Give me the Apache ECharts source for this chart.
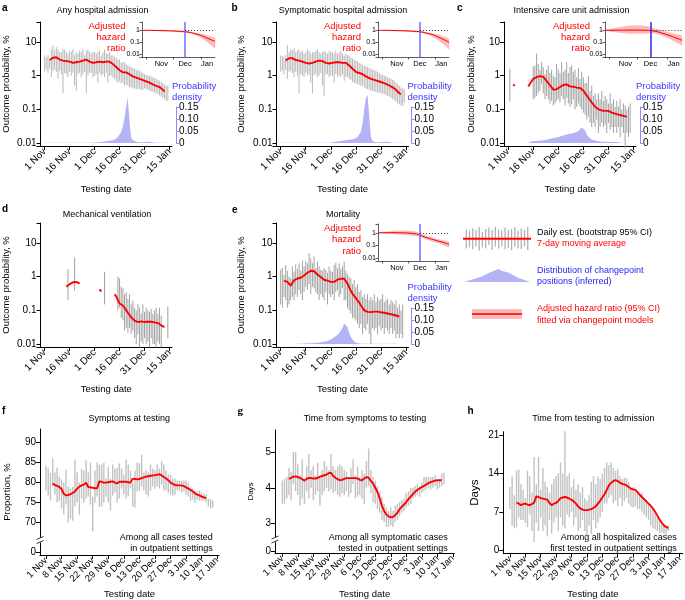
<!DOCTYPE html>
<html><head><meta charset="utf-8">
<script src="https://cdn.jsdelivr.net/npm/echarts@6/dist/echarts.min.js"></script>
<style>html,body{margin:0;padding:0;background:#fff}#c{width:685px;height:600px}</style>
</head><body><div id="c"></div>
<script>
const _ = null;
// ---------- tick labels ----------
const topTickDays = [0,15,30,45,60,75];
const topTickLabels = ['1 Nov','16 Nov','1 Dec','16 Dec','31 Dec','15 Jan'];
const botTickDays = [0,7,14,21,28,35,42,49,56,63,70,77];
const botTickLabels = ['1 Nov','8 Nov','15 Nov','22 Nov','29 Nov','6 Dec','13 Dec','20 Dec','27 Dec','3 Jan','10 Jan','17 Jan'];
const insetMonthDays = [17,44,69];
const insetMonthLabels = ['Nov','Dec','Jan'];
const insetTickDays = [0,30,62];
const changepointDay = 44;
const insetDays = [-5,0,10,20,30,40,44,50,55,60,65,70,75,78];

// ---------- a: Any hospital admission (day 0 = 1 Nov) ----------
const aMA = [_,_,_,2.9,3.1,3.4,3.6,3.5,3.2,3.0, 2.9,2.8,2.7,2.7,2.6,2.6,2.5,2.4,2.4,2.5, 2.5,2.6,2.7,2.8,2.9,3.0,2.8,2.6,2.5,2.4, 2.4,2.5,2.5,2.6,2.5,2.5,2.5,2.6,2.6,2.6, 2.4,2.2,2.0,1.8,1.6,1.45,1.3,1.25,1.25,1.25, 1.15,1.1,1.0,0.95,0.9,0.87,0.83,0.8,0.77,0.74, 0.7,0.68,0.65,0.62,0.58,0.55,0.53,0.5,0.48,0.46, 0.42,0.38,0.34,_,_,_,_];
const aHi = [4,3.5,4,3,6,8,5.5,7,6,5, 5,6,6,5,4.5,5.5,5,6,4,5, 4.5,5.5,5,6,4,5.5,6,5,4.5,5, 5,4.5,5,5.5,4,5,6,4.5,4.5,5, 4,4,3.5,3.5,3,3,2.5,2.5,2.5,2.2, 2.0,1.9,1.8,1.7,1.6,1.5,1.45,1.4,1.3,1.2, 1.1,1.05,1.0,1.0,0.95,0.9,0.85,0.8,0.75,0.7, 0.65,0.6,0.55,0.5,0.5,_,_];
const aLo = [1.3,1.5,1.2,1.6,0.9,1.4,1.5,1.3,0.8,1.4, 1.1,0.3,1.2,1.1,0.9,1.3,1.0,1.2,0.5,0.35, 1.1,1.2,0.9,1.1,1.3,0.3,1.0,1.2,1.2,0.9, 1.0,1.1,0.6,1.2,1.0,1.1,0.9,1.2,0.6,1.0, 1.0,0.9,0.8,0.7,0.6,0.7,0.6,0.6,0.5,0.55, 0.5,0.45,0.45,0.42,0.42,0.4,0.4,0.4,0.38,0.38, 0.42,0.4,0.38,0.36,0.34,0.33,0.31,0.3,0.28,0.26, 0.24,0.22,0.2,0.18,0.18,_,_];
const aDens = [0.001,0.001,0.001,0.001,0.001,0.001,0.001,0.001,0.001,0.001, 0.001,0.001,0.001,0.001,0.001,0.001,0.001,0.001,0.001,0.001, 0.001,0.001,0.001,0.001,0.001,0.001,0.001,0.001,0.001,0.001, 0.002,0.002,0.003,0.003,0.004,0.005,0.006,0.007,0.008,0.009, 0.01,0.011,0.014,0.018,0.024,0.032,0.045,0.068,0.1,0.15, 0.19,0.096,0.025,0.012,0.008,0.005,0.004,0.003,0.003,0.003, 0.004,0.005,0.005,0.005,0.004,0.003,0.002,0.001,0.001,0.001, 0.001,0.001,0.001,0.001,0.001,0,0];
const aRatio = [1,1,0.97,0.93,0.88,0.8,0.76,0.65,0.52,0.42,0.3,0.21,0.14,0.12];
const aRatioLo = [0.95,0.93,0.88,0.82,0.75,0.66,0.6,0.55,0.4,0.28,0.17,0.09,0.045,0.03];
const aRatioHi = [1.05,1.07,1.06,1.04,1.02,0.96,0.94,0.78,0.66,0.56,0.46,0.36,0.27,0.23];

// ---------- b: Symptomatic hospital admission ----------
const bMA = [_,_,_,2.8,3.0,3.3,3.5,3.3,3.0,2.9, 2.9,2.8,2.7,2.6,2.5,2.4,2.3,2.3,2.3,2.4, 2.5,2.6,2.7,2.8,2.9,2.7,2.5,2.4,2.3,2.3, 2.3,2.4,2.5,2.5,2.5,2.5,2.5,2.4,2.4,2.4, 2.2,2.0,1.8,1.6,1.45,1.3,1.25,1.2,1.15,1.1, 1.0,0.95,0.9,0.85,0.81,0.78,0.75,0.72,0.69,0.67, 0.65,0.62,0.6,0.57,0.54,0.51,0.48,0.45,0.42,0.38, 0.34,0.3,0.28,_,_,_,_];
const bHi = [4,3.8,3.5,4,8,5,6,5.5,6.5,5, 5.5,6,5,5.5,4.5,5,6,5.5,4.5,5, 5,5.5,6,5,4.5,5,5.5,5,4.5,5.5, 5,5,4.5,5.5,4.5,5,5.5,4.5,4,4.5, 4,3.8,3.5,3.2,3,2.8,2.6,2.4,2.3,2.1, 2.0,1.9,1.8,1.7,1.6,1.5,1.45,1.4,1.3,1.2, 1.1,1.05,1.0,0.95,0.9,0.85,0.8,0.75,0.7,0.62, 0.56,0.5,0.45,0.42,0.4,_,_];
const bLo = [1.3,1.4,1.1,1.5,0.8,1.3,1.4,1.2,0.9,1.3, 1.0,0.3,1.1,1.0,0.9,1.2,1.0,1.1,0.6,0.3, 1.0,1.1,0.9,1.0,1.2,0.5,0.25,1.1,1.1,0.9, 1.0,1.0,0.6,1.1,0.9,1.0,0.9,1.1,0.7,0.9, 0.9,0.8,0.75,0.65,0.6,0.6,0.55,0.55,0.5,0.5, 0.45,0.42,0.4,0.38,0.36,0.35,0.34,0.33,0.32,0.31, 0.3,0.29,0.28,0.26,0.25,0.24,0.22,0.2,0.19,0.17, 0.15,0.14,0.13,0.13,0.16,_,_];
const bDens = [0.001,0.001,0.001,0.001,0.001,0.001,0.001,0.001,0.001,0.001, 0.001,0.001,0.001,0.001,0.001,0.001,0.001,0.001,0.001,0.001, 0.001,0.001,0.001,0.001,0.001,0.001,0.001,0.001,0.001,0.001, 0.002,0.003,0.004,0.005,0.006,0.007,0.008,0.01,0.011,0.012, 0.013,0.014,0.015,0.016,0.017,0.018,0.025,0.035,0.047,0.08, 0.14,0.19,0.2,0.11,0.025,0.008,0.005,0.003,0.003,0.003, 0.003,0.004,0.005,0.005,0.005,0.004,0.002,0.001,0.001,0.001, 0.001,0.001,0.001,0.001,0,0,0];
const bRatio = [1,1,0.97,0.93,0.88,0.8,0.76,0.62,0.5,0.4,0.28,0.19,0.13,0.1];
const bRatioLo = [0.95,0.93,0.88,0.82,0.75,0.66,0.6,0.52,0.38,0.26,0.15,0.08,0.04,0.025];
const bRatioHi = [1.05,1.07,1.06,1.04,1.02,0.96,0.94,0.75,0.64,0.54,0.44,0.34,0.25,0.2];

// ---------- c: Intensive care unit admission ----------
const cMA = [_,_,_,0.55,0.5,_,_,_,_,_, _,_,0.48,0.55,0.68,0.8,0.87,0.9,0.93,0.97, 1.0,0.92,0.8,0.7,0.6,0.52,0.45,0.38,0.39,0.4, 0.44,0.46,0.5,0.53,0.57,0.55,0.52,0.48,0.46,0.47, 0.45,0.44,0.44,0.43,0.41,0.36,0.3,0.26,0.22,0.19, 0.16,0.14,0.12,0.11,0.1,0.095,0.093,0.092,0.09,0.09, 0.09,0.085,0.08,0.077,0.075,0.073,0.07,0.068,0.066,0.064, 0.062,0.06,_,_,_,_,_];
const cHi = [_,1.6,_,_,_,_,_,_,_,_, _,_,_,_,_,1.9,2.0,4.5,2.2,1.5, 2.5,1.8,1.1,1.5,2.0,1.2,1.5,1.0,0.9,2.2, 1.5,1.2,2.5,1.3,1.5,2.5,1.2,1.8,2.0,1.3, 1.5,0.9,1.7,0.8,1.3,0.9,0.6,0.6,1.0,0.35, 0.5,0.25,0.3,0.2,0.3,0.2,0.35,0.18,0.25,0.2, 0.15,0.3,0.15,0.2,0.12,0.18,0.12,0.2,0.1,0.15, 0.13,0.1,0.12,0.15,_,_,_];
const cLo = [_,0.17,_,_,_,_,_,_,_,_, _,_,_,_,_,0.2,0.22,0.25,0.3,0.35, 0.55,0.3,0.2,0.25,0.2,0.15,0.18,0.13,0.15,0.18, 0.2,0.16,0.25,0.2,0.13,0.22,0.15,0.12,0.14,0.2, 0.1,0.12,0.15,0.12,0.1,0.08,0.07,0.05,0.06,0.04, 0.03,0.04,0.03,0.05,0.02,0.03,0.04,0.03,0.035,0.02, 0.04,0.025,0.03,0.02,0.03,0.02,0.03,0.015,0.03,0.02, 0.007,0.02,0.015,0.02,_,_,_];
const cDens = [0,0,0,0,0,0,0,0,0,0, 0,0,0,0.004,0.007,0.008,0.008,0.009,0.009,0.01, 0.01,0.011,0.012,0.014,0.016,0.018,0.019,0.021,0.022,0.024, 0.025,0.027,0.029,0.031,0.033,0.035,0.037,0.039,0.04,0.042, 0.044,0.046,0.05,0.058,0.066,0.064,0.052,0.035,0.025,0.019, 0.015,0.012,0.01,0.008,0.007,0.006,0.005,0.005,0.005,0.005, 0.004,0.004,0.004,0.004,0.004,0.003,0.003,0.003,0,0, 0,0,0,0,0,0,0];
const cRatio = [1,1,1.02,1.04,1.04,1.0,0.95,0.8,0.62,0.47,0.35,0.25,0.18,0.14];
const cRatioLo = [0.92,0.8,0.62,0.52,0.5,0.52,0.55,0.5,0.38,0.27,0.18,0.11,0.07,0.05];
const cRatioHi = [1.08,1.3,1.8,2.4,2.6,2.3,1.9,1.35,1.05,0.85,0.65,0.52,0.42,0.36];

// ---------- d: Mechanical ventilation ----------
const dMA = [_,_,_,_,_,_,_,_,_,_, _,_,_,0.5,0.55,0.6,0.65,0.68,0.7,0.7, 0.67,0.62,_,_,_,_,_,_,_,_, _,_,_,0.42,0.36,_,_,_,_,_, _,_,0.3,0.26,0.2,0.16,0.14,0.14,0.12,0.1, 0.085,0.075,0.062,0.055,0.05,0.047,0.045,0.045,0.047,0.047, 0.045,0.045,0.046,0.047,0.046,0.044,0.044,0.043,0.042,0.04, 0.036,0.034,0.032,_,_,_,_];
const dHi = [_,_,_,_,_,_,_,_,_,_, _,_,_,_,1.7,_,_,_,3.7,_, _,_,_,_,_,_,_,_,_,_, _,_,_,_,_,_,1.4,_,_,_, _,_,_,_,1.0,0.9,0.5,0.45,0.3,0.35, 0.22,0.3,0.15,0.2,0.12,0.1,0.15,0.12,0.08,0.15, 0.09,0.12,0.1,0.09,0.11,0.08,0.1,0.12,0.08,0.12, 0.07,_,_,_,0.13,_,_];
const dLo = [_,_,_,_,_,_,_,_,_,_, _,_,_,_,0.2,_,_,_,0.38,_, _,_,_,_,_,_,_,_,_,_, _,_,_,_,_,_,0.15,_,_,_, _,_,_,_,0.1,0.12,0.06,0.05,0.025,0.03, 0.022,0.03,0.02,0.025,0.015,0.01,0.02,0.008,0.012,0.01, 0.015,0.01,0.012,0.008,0.015,0.01,0.01,0.008,0.012,0.01, 0.008,_,_,_,0.015,_,_];

// ---------- e: Mortality ----------
const eMA = [_,_,0.76,0.74,0.7,0.62,0.54,0.65,0.78,0.85, 0.88,0.9,0.93,0.98,1.08,1.17,1.3,1.42,1.5,1.56, 1.45,1.3,1.15,1.06,0.98,0.88,0.81,0.78,0.76,0.74, 0.7,0.66,0.7,0.78,0.82,0.85,0.87,0.88,0.87,0.78, 0.62,0.48,0.38,0.31,0.27,0.23,0.21,0.17,0.14,0.12, 0.1,0.093,0.09,0.089,0.089,0.09,0.092,0.093,0.092,0.09, 0.088,0.087,0.085,0.083,0.081,0.079,0.077,0.075,0.073,0.071, 0.068,0.066,_,_,_,_,_];
const eHi = [1.6,1.8,1.1,2.2,1.5,1.0,0.9,2.0,1.4,2.3, 1.7,2.5,1.5,3.0,2.0,2.8,2.5,5.0,3.5,2.5, 4.0,1.8,2.8,2.0,1.6,1.5,1.8,1.6,1.3,2.0, 1.5,1.4,2.2,2.6,1.8,2.5,1.7,2.0,2.8,1.5, 1.2,1.0,0.9,0.6,0.8,0.5,0.6,0.35,0.4,0.25, 0.3,0.22,0.3,0.2,0.25,0.2,0.3,0.18,0.25,0.2, 0.22,0.3,0.18,0.2,0.22,0.15,0.2,0.18,0.15,0.2, 0.12,0.15,0.1,0.15,_,_,_];
const eLo = [0.15,0.12,0.25,0.2,0.12,0.15,0.2,0.25,0.2,0.3, 0.25,0.4,0.3,0.2,0.35,0.5,0.4,0.6,0.3,0.5, 0.45,0.35,0.3,0.2,0.3,0.25,0.2,0.35,0.15,0.3, 0.25,0.3,0.2,0.35,0.4,0.25,0.3,0.45,0.2,0.2, 0.12,0.1,0.08,0.06,0.06,0.05,0.04,0.03,0.04,0.02, 0.03,0.025,0.04,0.02,0.01,0.03,0.025,0.03,0.02,0.035, 0.025,0.03,0.02,0.03,0.025,0.02,0.03,0.02,0.025,0.015, 0.02,0.015,0.02,0.015,_,_,_];
const eDens = [0,0,0,0,0,0,0,0,0,0, 0.001,0.001,0.001,0.002,0.002,0.002,0.003,0.003,0.003,0.004, 0.004,0.005,0.005,0.006,0.007,0.008,0.009,0.01,0.012,0.015, 0.019,0.024,0.028,0.032,0.038,0.045,0.055,0.068,0.085,0.09, 0.07,0.046,0.03,0.018,0.01,0.005,0.003,0.002,0.001,0.001, 0.001,0.001,0.001,0.001,0.001,0.001,0.001,0.001,0.001,0.001, 0.001,0.001,0.001,0.001,0.001,0.001,0.001,0.001,0.001,0.001, 0.001,0,0,0,0,0,0];
const eRatio = [1,1,1.02,1.0,0.95,0.8,0.65,0.45,0.35,0.28,0.22,0.18,0.14,0.12];
const eRatioLo = [0.9,0.85,0.78,0.7,0.62,0.52,0.45,0.32,0.24,0.19,0.15,0.11,0.08,0.07];
const eRatioHi = [1.1,1.2,1.4,1.5,1.45,1.2,0.95,0.63,0.5,0.4,0.32,0.27,0.22,0.19];

// ---------- f: Symptoms at testing (%) ----------
const fMA = [_,_,_,79.8,79.4,79.2,78.9,78.4,77.2,76.8, 76.9,77.1,77.4,77.8,78.5,79.0,79.3,79.5,80.0,78.9, 78.8,78.7,78.6,78.6,80.3,80.2,80.0,80.0,80.1,80.2, 80.3,80.0,79.8,80.2,80.2,80.2,80.2,80.1,80.0,81.0, 80.9,80.8,80.9,81.1,81.3,81.5,81.6,81.7,81.8,81.8, 82.0,82.1,81.8,81.4,81.0,80.6,80.0,79.7,79.4,79.3, 79.3,79.3,79.1,78.8,78.5,78.2,77.8,77.3,77.0,76.8, 76.5,76.3,76.1,_,_,_,_];
const fHi = [84.2,83.5,82.5,86,82.5,83.8,81.5,80.8,80,83.2, 79,78.5,79,85.8,82.5,80,83.5,83,85.5,82.5, 85,76.5,83,85,84.5,84.5,85,81,84,81, 84.5,83.5,83.7,84.8,83.5,82,85.8,84.5,83,80, 83,85,84.8,87,82.5,83,82.5,84.5,83.5,83, 84.5,83.5,85.3,84.5,83,82,82,81,81,80.5, 80.5,80.5,80.5,80.5,80,78.5,78.5,78,77.8,78, 77.5,77.2,77,76,76,75.5,_];
const fLo = [78,76.8,75.5,79,77,75,75.5,73.5,72,74.5, 70,71,70.5,74,75,72,76,75,76,76.5, 74.5,67.8,75,76.5,74,74,75,76.5,75,73, 76.8,77.5,75,76,78.5,77,76,76.5,78.5,74, 73.8,77.8,78,79,78,77,76.5,78,79,78.5, 79,78.5,79.5,78,78,77.5,77,76.8,77,78, 78,77.5,77.8,77,76.5,75.5,75.8,75,75.8,75.5, 75.5,75.5,75,74,73.5,73.8,_];

// ---------- g: Time from symptoms to testing (days) ----------
const gMA = [_,_,_,4.25,4.28,4.31,4.32,4.3,4.28,4.24, 4.2,4.25,4.28,4.27,4.26,4.26,4.28,4.31,4.33,4.35, 4.37,4.41,4.42,4.33,4.28,4.24,4.21,4.22,4.25,4.27, 4.27,4.27,4.27,4.27,4.26,4.22,4.21,4.26,4.3,4.28, 4.19,4.12,4.0,3.88,3.7,3.5,3.35,3.25,3.2,3.17, 3.18,3.23,3.3,3.4,3.47,3.53,3.6,3.68,3.75,3.82, 3.89,3.94,3.98,4.02,4.05,4.09,4.13,4.16,4.18,4.2, 4.21,4.21,4.21,_,_,_,_];
const gLo = [3.55,3.55,3.7,3.8,3.65,4.1,3.9,3.8,3.5,3.7, 3.55,3.9,3.7,4.0,3.65,3.8,3.9,3.5,3.8,3.9, 4.0,3.9,3.95,3.85,3.9,3.8,3.75,3.85,3.8,3.9, 3.75,3.85,4.1,3.7,3.75,3.8,3.7,3.55,4.0,4.05, 3.85,3.6,3.55,3.4,3.3,3.1,3.05,2.9,2.9,2.95, 2.9,3.05,3.1,3.2,3.3,3.35,3.45,3.5,3.55,3.7, 3.75,3.8,3.75,3.85,3.9,3.95,4.0,3.95,4.0,4.05, 3.95,4.0,4.05,4.1,_,_,_];
const gHi = [4.2,4.25,4.3,4.55,4.45,5.0,5.0,4.65,4.35,4.8, 4.25,4.6,4.95,4.5,4.6,4.35,4.7,4.3,4.5,4.75, 4.6,4.5,4.95,4.6,4.5,4.6,4.65,4.6,4.5,4.45, 4.3,4.55,4.8,4.35,4.6,4.3,4.5,4.4,4.75,5.1, 4.5,4.3,4.2,4.05,3.9,3.75,3.55,3.45,3.35,3.45, 3.35,3.5,3.55,3.6,3.65,3.7,3.85,3.9,4.0,4.0, 4.05,4.1,4.05,4.15,4.3,4.3,4.3,4.3,4.3,4.35, 4.2,4.25,4.4,4.42,_,_,_];

// ---------- h: Time from testing to admission (days) ----------
const hMA = [_,_,_,8.7,8.5,8.2,8.4,8.5,8.3,8.2, 8.4,8.7,9.8,9.7,9.5,9.4,9.3,9.2,8.6,8.2, 8.5,8.6,9.0,9.5,9.6,9.7,9.6,9.4,9.2,8.9, 8.5,8.0,7.6,7.4,7.3,7.3,7.4,7.5,7.7,8.0, 8.5,9.0,9.6,10.2,11.0,11.8,12.3,12.6,12.8,12.6, 12.3,12.1,12.0,11.8,11.5,11.2,11.1,11.0,10.6,10.1, 9.7,9.3,8.9,8.5,8.1,7.6,7.0,6.3,5.6,5.0, 4.5,4.2,4.1,_,_,_,_];
const hLo = [7.5,4.5,4,4.2,6,5.5,5.5,5,4.2,6.5, 3.5,1.5,5,3.5,6,3.5,4.5,2.5,5.5,3, 5,6,3.5,6,4.5,4,6.5,6,7,4.5, 6,3.5,4,5.5,3.5,2.5,4.5,3,5.5,4, 5,6,7,8.5,8.5,9.5,10,8.5,9,8, 9.5,8,9,9.5,8.5,8,7.8,8,7.5,7.5, 7,6.5,6,5.5,4.5,4,3.8,3.5,3,3.2, 3,2.8,3.5,_,_,_,_];
const hHi = [11.5,13.5,10,14.5,14.7,12,11,9.5,14.5,13.5, 10.5,17,12,17,11,15,12.5,11.5,10.5,12, 13,13.5,14,16,14,21.7,13.5,14,11.5,13, 11,12,10.5,11.5,9.5,9,10,12.5,13.5,12, 13.5,13,14,15,16,15.5,16,15,14.5,14.8, 13.5,13,13.2,13.2,12.5,11.5,11.5,11,10.5,10, 10.5,9.5,9.2,8.5,8,7.5,6.8,6,5.5,5, 4.8,4.6,4.5,_,_,_,_];

// ---------- legend keys ----------
const legBarLo = [0.1,0.15,0.07,0.2,0.01,0.15,0.1,0.25,0.04,0.18,0.1,0.2,0.07,0.14,0.04,0.18,0.1,0.08,0.2,0.04];
const legBarHi = [0.9,0.85,0.95,0.88,1.0,0.8,0.92,0.98,0.88,1.0,0.9,0.85,0.97,0.88,0.92,1.0,0.85,0.94,0.88,1.0];
const legDensX = [0,0.27,0.4,0.52,0.58,0.67,0.82,1];
const legDensY = [0,0.43,0.75,1,0.85,0.74,0.33,0];

// ================= building =================
const FONT = '"Liberation Sans", Arial, Helvetica, sans-serif';
const grids=[], xAxes=[], yAxes=[], series=[];
const addGrid = g => (grids.push(g), grids.length-1);
const addX = o => (xAxes.push(Object.assign({splitLine:{show:false}}, o)), xAxes.length-1);
const addY = o => (yAxes.push(Object.assign({splitLine:{show:false}}, o)), yAxes.length-1);
const blk = {color:'#000', width:1};
const pts = arr => arr.map((v,i)=>[i, v]);
const isPow10 = v => { const l=Math.log10(v); return Math.abs(l-Math.round(l))<1e-6; };
const logFmt = v => isPow10(v) ? String(+Number(v).toPrecision(2)) : '';

function barSeries(xi, yi, lo, hi, color, w){
  const data = [];
  lo.forEach((l,i)=>{ if(l!=null && hi[i]!=null) data.push([i,l,hi[i]]); });
  return {type:'custom', xAxisIndex:xi, yAxisIndex:yi, data, silent:true, clip:false,
    encode:{x:0,y:[1,2]},
    renderItem:(p,api)=>{
      const a=api.coord([api.value(0),api.value(1)]), b=api.coord([api.value(0),api.value(2)]);
      return {type:'line', shape:{x1:a[0],y1:a[1],x2:b[0],y2:b[1]}, style:{stroke:color,lineWidth:w}};
    }};
}
function lineSeries(xi, yi, data, color, w, extra){
  return Object.assign({type:'line', xAxisIndex:xi, yAxisIndex:yi, data, showSymbol:false, symbol:'none',
    connectNulls:false, silent:true, lineStyle:{color, width:w}, itemStyle:{color}}, extra||{});
}
function bandSeries(xi, yi, xs, lo, hi, fill, smooth){
  return {type:'custom', xAxisIndex:xi, yAxisIndex:yi, data:[[xs[0], lo[0]]], silent:true, clip:false,
    renderItem:(p,api)=>{
      const top = xs.map((x,i)=>api.coord([x,hi[i]]));
      const bot = xs.map((x,i)=>api.coord([x,lo[i]])).reverse();
      return {type:'polygon', shape:{points:top.concat(bot), smooth:smooth||0}, style:{fill}};
    }};
}

function topPanel(p){
  const gi = addGrid({left:p.left, top:p.top, width:132, height:124});
  const xi = addX({gridIndex:gi, type:'value', min:-2.5, max:76.5,
    axisLine:{onZero:false, lineStyle:blk},
    axisTick:{customValues:topTickDays, length:4, lineStyle:blk},
    axisLabel:{customValues:topTickDays, formatter:v=>topTickLabels[topTickDays.indexOf(v)], rotate:45, fontSize:10, color:'#000', margin:4, fontFamily:FONT},
    name:'Testing date', nameLocation:'middle', nameGap:p.xNameGap, nameTextStyle:{fontSize:9.5,color:'#000',fontFamily:FONT}});
  const yi = addY({gridIndex:gi, type:'log', logBase:10, min:0.0082, max:39,
    axisLine:{show:true, onZero:false, lineStyle:blk}, axisTick:{show:true, length:4, lineStyle:blk},
    minorTick:{show:false},
    axisLabel:{fontSize:10, color:'#000', margin:4, fontFamily:FONT, formatter:logFmt},
    name:'Outcome probability, %', nameLocation:'middle', nameRotate:90, nameGap:p.yNameGap,
    nameTextStyle:{fontSize:9.5,color:'#000',fontFamily:FONT}});
  if (p.dens){
    const dg = addGrid({left:p.left, top:p.densTop, width:132, height:36});
    const dx = addX({gridIndex:dg, type:'value', min:-2.5, max:76.5, show:false});
    const dy = addY({gridIndex:dg, type:'value', position:'right', offset:p.densOffset, min:0, max:0.15, interval:0.05,
      axisLine:{show:true, onZero:false, lineStyle:{color:'#8c8cff', width:1}}, axisTick:{show:true, length:3, lineStyle:{color:'#8c8cff'}},
      axisLabel:{fontSize:10, color:'#000', margin:3, fontFamily:FONT, formatter:v=> v===0?'0':v.toFixed(2)}});
    series.push(lineSeries(dx, dy, pts(p.dens), '#b3b3f6', 0, {clip:false, areaStyle:{color:'#b3b3f6', opacity:1}, z:1}));
  }
  series.push(barSeries(xi, yi, p.lo, p.hi, p.barColor, 1.0));
  series.push(lineSeries(xi, yi, pts(p.ma), '#ff0000', 1.9, {z:5}));
  if (p.inset){
    const q = p.inset;
    const ig = addGrid({left:q.left, top:q.top, width:q.w, height:q.h});
    const ix = addX({gridIndex:ig, type:'value', min:-5, max:78,
      axisLine:{onZero:false, lineStyle:{color:'#333', width:0.8}},
      axisTick:{customValues:insetTickDays, length:2.5, lineStyle:{color:'#333', width:0.8}},
      axisLabel:{customValues:insetMonthDays, formatter:v=>insetMonthLabels[insetMonthDays.indexOf(v)], fontSize:7.5, color:'#000', margin:3, fontFamily:FONT}});
    const iy = addY({gridIndex:ig, type:'log', logBase:10, min:0.0056, max:5,
      axisLine:{show:true, onZero:false, lineStyle:{color:'#333', width:0.8}}, axisTick:{show:true, length:2.5, lineStyle:{color:'#333', width:0.8}},
      minorTick:{show:false},
      axisLabel:{fontSize:7, color:'#000', margin:2, fontFamily:FONT, formatter:logFmt}});
    series.push(bandSeries(ix, iy, insetDays, q.lo, q.hi, 'rgba(255,70,70,0.38)', 0.25));
    series.push(lineSeries(ix, iy, insetDays.map((d,i)=>[d,q.mid[i]]), '#ee0000', 1, {smooth:0.3, z:4,
      markLine:{symbol:'none', silent:true, animation:false, label:{show:false}, data:[
        {xAxis:changepointDay, lineStyle:{color:q.cpColor, width:1.5, type:'solid'}},
        [{coord:[changepointDay,1], lineStyle:{color:'#333', width:1, type:[1,2]}}, {coord:[78,1]}]
      ]}}));
  }
}

topPanel({left:40, top:22, lo:aLo, hi:aHi, ma:aMA, barColor:'#b8b8b8', dens:aDens, densTop:107, densOffset:4, xNameGap:38.5, yNameGap:29.5,
  inset:{left:142, top:22, w:73, h:35, mid:aRatio, lo:aRatioLo, hi:aRatioHi, cpColor:'#6b6bff'}});
topPanel({left:276.5, top:22, lo:bLo, hi:bHi, ma:bMA, barColor:'#b8b8b8', dens:bDens, densTop:107, densOffset:3, xNameGap:38.5, yNameGap:30,
  inset:{left:378, top:22, w:71, h:35, mid:bRatio, lo:bRatioLo, hi:bRatioHi, cpColor:'#6b6bff'}});
topPanel({left:504, top:22, lo:cLo, hi:cHi, ma:cMA, barColor:'#a2a2a2', dens:cDens, densTop:107, densOffset:4, xNameGap:38.5, yNameGap:26,
  inset:{left:605, top:22, w:77, h:35, mid:cRatio, lo:cRatioLo, hi:cRatioHi, cpColor:'#2a2ae6'}});
topPanel({left:40, top:223, lo:dLo, hi:dHi, ma:dMA, barColor:'#a2a2a2', xNameGap:37.5, yNameGap:29.5});
topPanel({left:276.5, top:223, lo:eLo, hi:eHi, ma:eMA, barColor:'#a2a2a2', dens:eDens, densTop:308, densOffset:3, xNameGap:37.5, yNameGap:30,
  inset:{left:378, top:224, w:71, h:37, mid:eRatio, lo:eRatioLo, hi:eRatioHi, cpColor:'#6b6bff'}});

function bottomPanel(p){
  const gi = addGrid({left:p.left, top:p.top, width:p.w, height:p.h});
  const xi = addX({gridIndex:gi, type:'value', min:p.xmin, max:p.xmax,
    axisLine:{onZero:false, lineStyle:blk},
    axisTick:{customValues:botTickDays, length:4, lineStyle:blk},
    axisLabel:{customValues:botTickDays, formatter:v=>botTickLabels[botTickDays.indexOf(v)], rotate:45, fontSize:9.5, color:'#000', margin:4, fontFamily:FONT},
    name:'Testing date', nameLocation:'middle', nameGap:p.xNameGap, nameTextStyle:{fontSize:9.5,color:'#000',fontFamily:FONT}});
  const yi = addY({gridIndex:gi, type:'value', min:p.ymin, max:p.ymax,
    axisLine:{show:true, onZero:false, lineStyle:blk}, axisTick:{show:true, length:4, lineStyle:blk, customValues:p.yTicks},
    axisLabel:{customValues:p.yTicks, formatter:p.yFmt, fontSize:10, color:'#000', margin:4, fontFamily:FONT},
    name:p.yName, nameLocation:'middle', nameRotate:90, nameGap:p.yNameGap, nameTextStyle:{fontSize:p.yNameSize,color:'#000',fontFamily:FONT}});
  series.push(barSeries(xi, yi, p.lo, p.hi, '#c2c2c2', 1.4));
  series.push(lineSeries(xi, yi, pts(p.ma), '#ff0000', 1.9, {z:5}));
}
const fZeroPos = 62.7, gZeroPos = 2.23;
bottomPanel({left:40, top:429, w:179, h:126, xmin:-2.7, xmax:77.8, ymin:61.9, ymax:93.4,
  yTicks:[fZeroPos,70,75,80,85,90], yFmt:v=> v===fZeroPos?'0':String(v), yName:'Proportion, %', yNameGap:27.5, yNameSize:9.5, xNameGap:34,
  lo:fLo, hi:fHi, ma:fMA});
bottomPanel({left:275, top:430, w:179.3, h:124.3, xmin:-3.3, xmax:77.7, ymin:2.17, ymax:5.62,
  yTicks:[gZeroPos,3,4,5], yFmt:v=> v===gZeroPos?'0':String(v), yName:'Days', yNameGap:20, yNameSize:8, xNameGap:36,
  lo:gLo, hi:gHi, ma:gMA});
bottomPanel({left:503.3, top:431.7, w:181.7, h:123.3, xmin:-3, xmax:78.5, ymin:-0.6, ymax:21.6,
  yTicks:[0,7,14,21], yFmt:v=>String(v), yName:'Days', yNameGap:22.5, yNameSize:11.5, xNameGap:35.5,
  lo:hLo, hi:hHi, ma:hMA});

// legend keys as tiny grids
(function(){
  const g1 = addGrid({left:463, top:227, width:68, height:24});
  const x1 = addX({gridIndex:g1, type:'value', min:0, max:21, show:false});
  const y1 = addY({gridIndex:g1, type:'value', min:0, max:1, show:false});
  series.push(barSeries(x1, y1, [_].concat(legBarLo), [_].concat(legBarHi), '#b0b0b0', 1.3));
  series.push(lineSeries(x1, y1, [[0,0.51],[21,0.51]], '#ff0000', 1.8));
  const g2 = addGrid({left:464, top:269, width:66, height:13});
  const x2 = addX({gridIndex:g2, type:'value', min:0, max:1, show:false});
  const y2 = addY({gridIndex:g2, type:'value', min:0, max:1, show:false});
  series.push(lineSeries(x2, y2, legDensX.map((x,i)=>[x,legDensY[i]]), '#b3b3f6', 0, {areaStyle:{color:'#b3b3f6',opacity:1}}));
  const g3 = addGrid({left:472, top:309, width:50, height:10});
  const x3 = addX({gridIndex:g3, type:'value', min:0, max:1, show:false});
  const y3 = addY({gridIndex:g3, type:'value', min:0, max:1, show:false});
  series.push(bandSeries(x3, y3, [0,1], [0,0], [1,1], 'rgba(255,70,70,0.38)', 0));
  series.push(lineSeries(x3, y3, [[0,0.5],[1,0.5]], '#ee0000', 1.3));
})();

// ---------- text annotations ----------
function txt(x,y,text,o){
  o=o||{};
  return {type:'text', x, y, silent:true, z:100, style:{text, fill:o.color||'#000',
    font:(o.weight||'normal')+' '+(o.size||9)+'px '+(o.family||FONT),
    textAlign:o.align||'left', align:o.align||'left', textVerticalAlign:'middle', verticalAlign:'middle', lineHeight:o.lh||11}};
}
const RED='#ff0000', BLUE='#3a3aff';
const texts = [
  txt(2,8,'a',{weight:'bold',size:10}), txt(102.5,10.7,'Any hospital admission',{align:'center'}),
  txt(231.5,8,'b',{weight:'bold',size:10}), txt(343,10.7,'Symptomatic hospital admission',{align:'center'}),
  txt(457,8,'c',{weight:'bold',size:10}), txt(571.5,10.7,'Intensive care unit admission',{align:'center'}),
  txt(2,209.5,'d',{weight:'bold',size:10}), txt(107,214.5,'Mechanical ventilation',{align:'center'}),
  txt(232,210.5,'e',{weight:'bold',size:10}), txt(343,214.5,'Mortality',{align:'center'}),
  txt(2,411,'f',{weight:'bold',size:10}), txt(129.3,418.3,'Symptoms at testing',{align:'center'}),
  txt(237.5,411,'g',{weight:'bold',size:11,family:'"Liberation Serif", serif'}), txt(365,418.3,'Time from symptoms to testing',{align:'center'}),
  txt(467.5,411,'h',{weight:'bold',size:10}), txt(593.3,418.3,'Time from testing to admission',{align:'center'}),
  // hazard ratio labels
  txt(125.5,37.3,'Adjusted\nhazard\nratio',{align:'right',color:RED,size:9.5,lh:11.3}),
  txt(361,37.3,'Adjusted\nhazard\nratio',{align:'right',color:RED,size:9.5,lh:11.3}),
  txt(590,37.3,'Adjusted\nhazard\nratio',{align:'right',color:RED,size:9.5,lh:11.3}),
  txt(361,239.8,'Adjusted\nhazard\nratio',{align:'right',color:RED,size:9.5,lh:11.3}),
  // density labels
  txt(172,91.5,'Probability\ndensity',{color:BLUE,size:9.5,lh:11}),
  txt(407.5,91.5,'Probability\ndensity',{color:BLUE,size:9.5,lh:11}),
  txt(636,91.5,'Probability\ndensity',{color:BLUE,size:9.5,lh:11}),
  txt(407.5,293.3,'Probability\ndensity',{color:BLUE,size:9.5,lh:11}),
  // legend texts
  txt(537,232.7,'Daily est. (bootstrap 95% CI)'), txt(537,243.3,'7-day moving average',{color:RED}),
  txt(537,270.7,'Distribution of changepoint',{color:'#2424f0'}), txt(537,281.7,'positions (inferred)',{color:'#2424f0'}),
  txt(537,309,'Adjusted hazard ratio (95% CI)',{color:RED}), txt(537,321,'fitted via changepoint models',{color:RED}),
  // notes
  txt(212.7,543.5,'Among all cases tested\nin outpatient settings',{align:'right',size:9,lh:11}),
  txt(447.7,543.5,'Among all symptomatic cases\ntested in outpatient settings',{align:'right',size:9,lh:11}),
  txt(676.7,543.5,'Among all hospitalized cases\nfirst tested in outpatient settings',{align:'right',size:9,lh:11})
];
// axis break marks (f, g)
function breakMark(x,y){
  return [
    {type:'rect', shape:{x:x-3,y:y-3,width:6,height:5}, style:{fill:'#fff'}, z:101, silent:true},
    {type:'line', shape:{x1:x-3.5,y1:y-1,x2:x+3.5,y2:y-4}, style:{stroke:'#000',lineWidth:0.8}, z:102, silent:true},
    {type:'line', shape:{x1:x-3.5,y1:y+3,x2:x+3.5,y2:y}, style:{stroke:'#000',lineWidth:0.8}, z:102, silent:true}
  ];
}
const graphics = texts.concat(breakMark(40,540.5), breakMark(275,540));

const chart = echarts.init(document.getElementById('c'), null, {renderer:'canvas'});
chart.setOption({animation:false, backgroundColor:'#fff', textStyle:{fontFamily:FONT},
  grid:grids, xAxis:xAxes, yAxis:yAxes, series, graphic:graphics});
</script></body></html>
